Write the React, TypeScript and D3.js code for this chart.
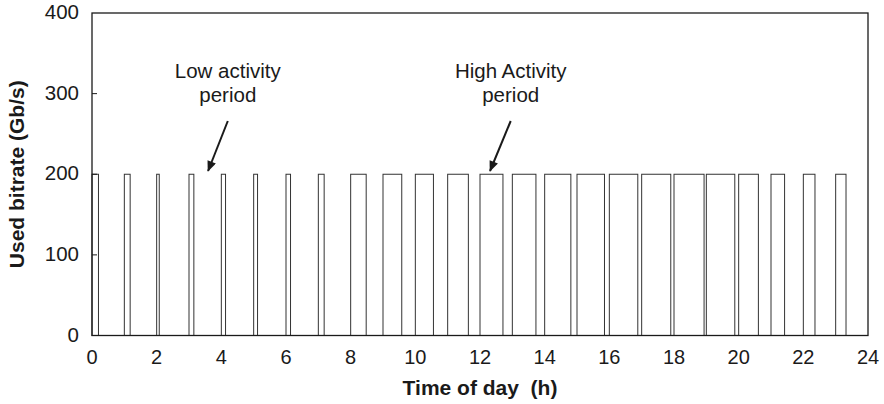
import React, { useRef, useEffect } from "react";
import * as d3 from "d3";

const hours = [0, 1, 2, 3, 4, 5, 6, 7, 8, 9, 10, 11, 12, 13, 14, 15, 16, 17, 18, 19, 20, 21, 22, 23];
const durations = [0.2, 0.18, 0.08, 0.15, 0.13, 0.12, 0.14, 0.18, 0.48, 0.58, 0.56, 0.64, 0.71, 0.73, 0.81, 0.85, 0.88, 0.9, 0.93, 0.88, 0.61, 0.42, 0.36, 0.32];
const bitrates = [200, 200, 200, 200, 200, 200, 200, 200, 200, 200, 200, 200, 200, 200, 200, 200, 200, 200, 200, 200, 200, 200, 200, 200];
const xTicks = [0, 2, 4, 6, 8, 10, 12, 14, 16, 18, 20, 22, 24];
const yTicks = [0, 100, 200, 300, 400];
const notes = [
  { lines: ["Low activity", "period"], textHour: 4.2, tipHour: 3.59 },
  { lines: ["High Activity", "period"], textHour: 12.95, tipHour: 12.31 },
];

const App = () => {
  const svgRef = useRef<SVGSVGElement>(null);

  useEffect(() => {
    const width = 884;
    const height = 404;
    const left = 92, right = 868, top = 13, bottom = 335.5;
    const font = "'Liberation Sans', Arial, Helvetica, sans-serif";
    const ink = "#1a1a1a";

    const svg = d3.select(svgRef.current);
    svg.selectAll("*").remove();
    svg.attr("width", width).attr("height", height);

    const x = d3.scaleLinear().domain([0, 24]).range([left, right]);
    const y = d3.scaleLinear().domain([0, 400]).range([bottom, top]);

    const defs = svg.append("defs");
    defs.append("marker")
      .attr("id", "head")
      .attr("viewBox", "0 0 12 10")
      .attr("refX", 11)
      .attr("refY", 5)
      .attr("markerWidth", 12)
      .attr("markerHeight", 9)
      .attr("markerUnits", "userSpaceOnUse")
      .attr("orient", "auto")
      .append("path")
      .attr("d", "M0,0 L12,5 L0,10 z")
      .attr("fill", ink);

    const data = hours.map((h, i) => ({ h, d: durations[i], v: bitrates[i] }));

    // bars
    svg.append("g")
      .selectAll("rect")
      .data(data)
      .enter()
      .append("rect")
      .attr("x", d => x(d.h))
      .attr("y", d => y(d.v))
      .attr("width", d => x(d.h + d.d) - x(d.h))
      .attr("height", d => y(0) - y(d.v))
      .attr("fill", "white")
      .attr("stroke", "#333")
      .attr("stroke-width", 1);

    // frame
    svg.append("rect")
      .attr("x", left)
      .attr("y", top)
      .attr("width", right - left)
      .attr("height", bottom - top)
      .attr("fill", "none")
      .attr("stroke", ink)
      .attr("stroke-width", 1.3);

    // y ticks (inside)
    svg.append("g")
      .selectAll("line")
      .data(yTicks.slice(1, -1))
      .enter()
      .append("line")
      .attr("x1", left)
      .attr("x2", left + 5)
      .attr("y1", d => y(d))
      .attr("y2", d => y(d))
      .attr("stroke", ink)
      .attr("stroke-width", 1);

    svg.append("g")
      .selectAll("text")
      .data(yTicks)
      .enter()
      .append("text")
      .attr("x", left - 13)
      .attr("y", d => y(d) + 6)
      .attr("text-anchor", "end")
      .style("font-family", font)
      .style("font-size", "20.5px")
      .attr("fill", ink)
      .text(d => d);

    svg.append("g")
      .selectAll("text")
      .data(xTicks)
      .enter()
      .append("text")
      .attr("x", d => x(d))
      .attr("y", bottom + 28)
      .attr("text-anchor", "middle")
      .style("font-family", font)
      .style("font-size", "20px")
      .attr("fill", ink)
      .text(d => d);

    // axis titles
    svg.append("text")
      .attr("transform", `translate(24, ${(top + bottom) / 2}) rotate(-90)`)
      .attr("text-anchor", "middle")
      .style("font-family", font)
      .style("font-size", "21px")
      .style("font-weight", "bold")
      .attr("fill", ink)
      .text("Used bitrate (Gb/s)");

    svg.append("text")
      .attr("x", 480)
      .attr("y", 395)
      .attr("text-anchor", "middle")
      .style("font-family", font)
      .style("font-size", "21px")
      .style("font-weight", "bold")
      .style("white-space", "pre")
      .attr("fill", ink)
      .text("Time of day\u00a0\u00a0(h)");

    // annotations
    const g = svg.append("g");
    notes.forEach(n => {
      const cx = x(n.textHour);
      n.lines.forEach((t, i) => {
        g.append("text")
          .attr("x", cx)
          .attr("y", 78 + i * 24)
          .attr("text-anchor", "middle")
          .style("font-family", font)
          .style("font-size", "20.5px")
          .attr("fill", ink)
          .text(t);
      });
      g.append("line")
        .attr("x1", cx)
        .attr("y1", 121)
        .attr("x2", x(n.tipHour))
        .attr("y2", 171)
        .attr("stroke", ink)
        .attr("stroke-width", 2)
        .attr("marker-end", "url(#head)");
    });
  }, []);

  return <svg ref={svgRef} style={{ position: "absolute", left: 0, top: 0 }}></svg>;
};

export default App;
